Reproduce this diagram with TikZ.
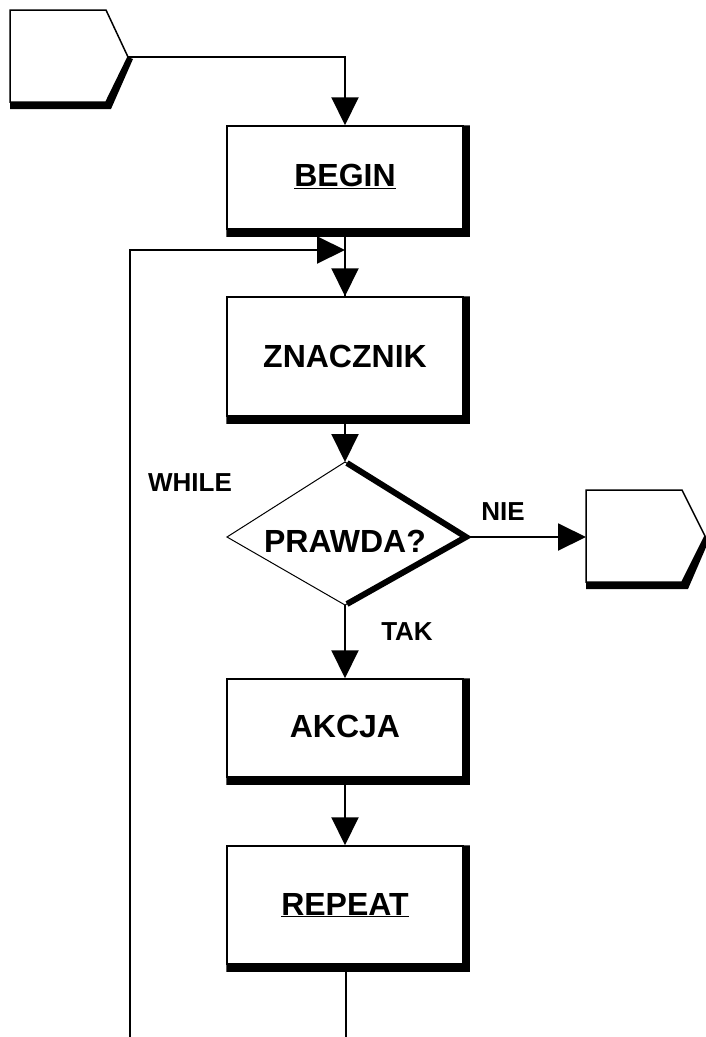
\documentclass[tikz,border=0pt]{standalone}
\usepackage{fontspec}
\setmainfont{Liberation Sans}
\usetikzlibrary{arrows.meta,calc}

\tikzset{
  stepbox/.style={draw, line width=1.5pt, fill=white, minimum width=236pt,
    inner sep=0pt, font=\fontsize{32}{36}\selectfont\bfseries},
  conn/.style={line width=2pt, -{Triangle[length=28pt,width=27pt]}},
  plainline/.style={line width=2pt},
  lbl/.style={font=\fontsize{26}{30}\selectfont\bfseries, inner sep=0pt},
  outline/.style={line width=1.5pt, line join=miter},
}
% drop shadow along the right and bottom edges of a box
\newcommand\boxshadow[1]{%
  \fill (#1.north east) -- ++(6,0) -- ($(#1.south east)+(6,7)$)
    -- ($(#1.south west)+(0,7)$) -- (#1.south west) -- (#1.south east) -- cycle;}

\begin{document}
\begin{tikzpicture}[x=1pt,y=-1pt]
\useasboundingbox (0,0) rectangle (705,1037);

% entry connector (top left)
\coordinate (intip) at (128,57);
\fill (intip) -- (133,59) -- (111,109) -- (10,109) -- (10,102) -- (106,102) -- cycle;
\draw[outline, fill=white] (10,10) -- (106,10) -- (intip) -- (106,102) -- (10,102) -- cycle;

% exit connector (right)
\coordinate (outleft) at (586,537);
\fill (705,536) -- (710,538) -- (688,589) -- (586,589) -- (586,582) -- (682,582) -- cycle;
\draw[outline, fill=white] (586,490) -- (682,490) -- (705,536) -- (682,582) -- (586,582) -- cycle;

% boxes
\node[stepbox, minimum height=103pt] (begin) at (345,177.5) {\raisebox{4pt}{\underline{BEGIN}}};
\boxshadow{begin}
\node[stepbox, minimum height=119pt] (znacznik) at (345,356.5) {ZNACZNIK};
\boxshadow{znacznik}
\node[stepbox, minimum height=98pt] (akcja) at (345,728) {\raisebox{4pt}{AKCJA}};
\boxshadow{akcja}
\node[stepbox, minimum height=118pt] (repeat) at (345,905) {\underline{REPEAT}};
\boxshadow{repeat}

% decision
\coordinate (dt) at (345,462);
\coordinate (dl) at (227,537);
\coordinate (dr) at (465,537);
\coordinate (db) at (345,605);
\draw[line width=1pt, fill=white] (dt) -- (dr) -- (db) -- (dl) -- cycle;
\draw[line width=6pt, line join=miter] ($(dt)+(2,1)$) -- ($(dr)+(1,0)$) -- ($(db)+(2,-1)$);
\node[font=\fontsize{32}{36}\selectfont\bfseries, inner sep=0pt] (prawda) at (345,541) {PRAWDA?};

% loop back
\coordinate (loopstart) at (130,1037);
\coordinate (loopjoin) at (345,250);
\coordinate (flowend) at (346,1037);

% connectors
\draw[conn] (intip) -| (begin.north);
\draw[plainline] (begin.south) -- (znacznik.north);
\draw[conn] (loopstart) |- (loopjoin);
\draw[conn] ($(begin.south)+(0,7)$) -- (znacznik.north);
\draw[conn] ($(znacznik.south)+(0,7)$) -- (dt);
\draw[conn] (dr) -- (outleft);
\draw[conn] (db) -- (akcja.north);
\draw[conn] ($(akcja.south)+(0,7)$) -- (repeat.north);
\draw[plainline] ($(repeat.south)+(1,7)$) -- (flowend);

% labels
\node[lbl] (while) at (190,483) {WHILE};
\node[lbl] (nie) at (503,512) {NIE};
\node[lbl] (tak) at (407,632) {TAK};
\end{tikzpicture}
\end{document}
